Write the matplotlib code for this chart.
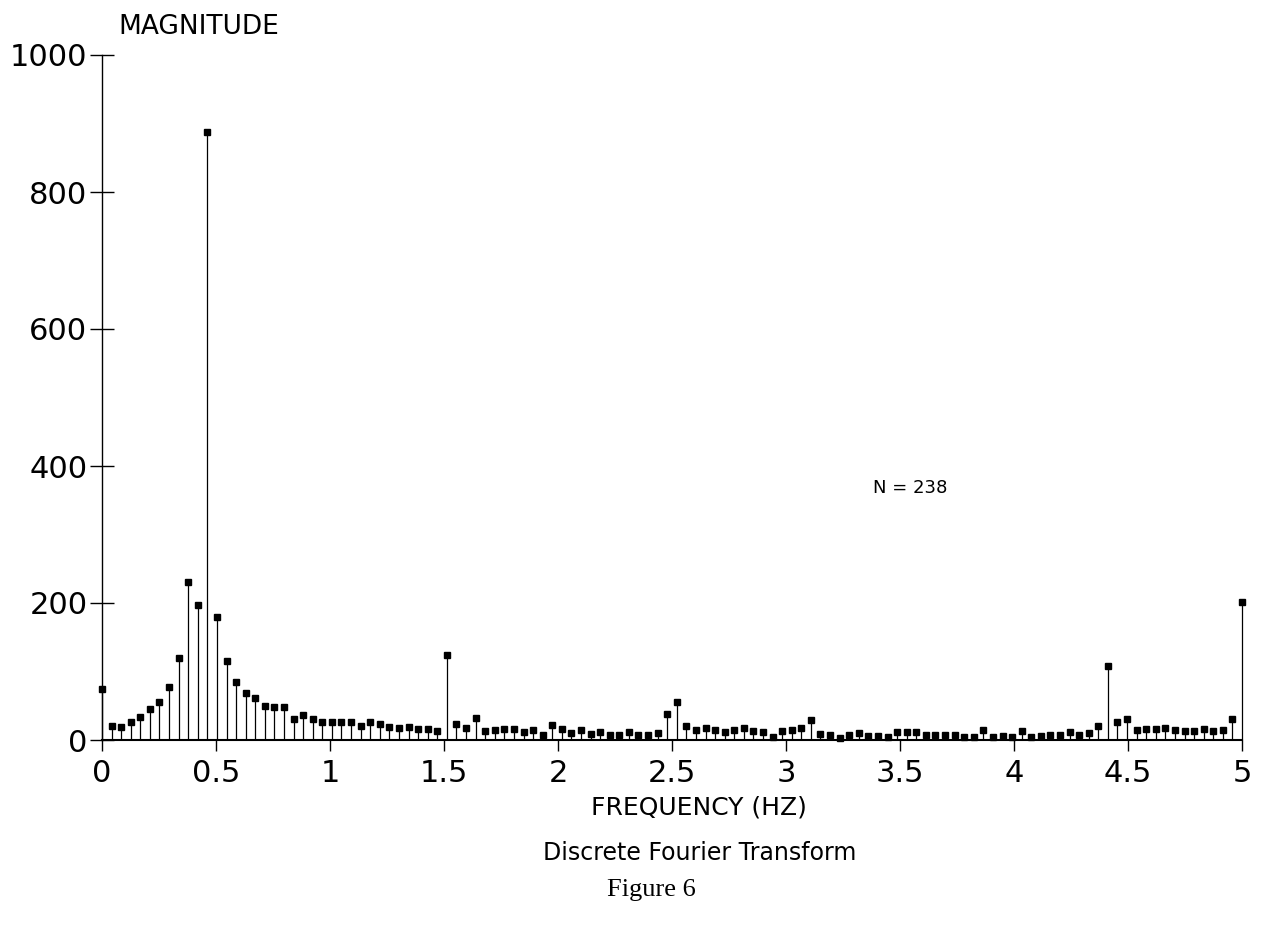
import numpy as np
import matplotlib
matplotlib.use("Agg")
import matplotlib.pyplot as plt

# DFT record: N samples at fs = 10 Hz, bins 0..119 (0..5 Hz)
N = 238
fs = 10.0

# magnitudes, one per bin
mag = [74, 21, 19, 26, 33, 45, 55, 78, 120, 230,
       197, 887, 180, 116, 85, 69, 61, 49, 48, 48,
       31, 37, 30, 26, 26, 27, 27, 20, 26, 23,
       19, 18, 19, 16, 16, 13, 124, 23, 17, 32,
       13, 15, 16, 16, 12, 15, 7, 22, 16, 10,
       15, 9, 12, 8, 8, 11, 8, 7, 10, 38,
       56, 20, 14, 18, 14, 11, 14, 17, 13, 12,
       4, 13, 14, 18, 29, 9, 7, 3, 7, 10,
       6, 6, 5, 11, 12, 11, 8, 8, 8, 7,
       5, 4, 15, 4, 6, 4, 13, 4, 6, 8,
       7, 12, 8, 10, 21, 108, 26, 31, 14, 16,
       16, 18, 14, 13, 13, 16, 13, 15, 30, 202]

freq = np.arange(len(mag)) * fs / N

xticks = [0, 0.5, 1, 1.5, 2, 2.5, 3, 3.5, 4, 4.5, 5]
xtick_labels = ['0', '0.5', '1', '1.5', '2', '2.5', '3', '3.5', '4', '4.5', '5']
yticks = [0, 200, 400, 600, 800, 1000]

plt.rcParams['font.family'] = ['DejaVu Sans']

W, H = 1263, 938
fig = plt.figure(figsize=(W / 100, H / 100), dpi=100)
ax = fig.add_axes([102 / W, 1 - 740 / H, 1140 / W, 685 / H])

markerline, stemlines, baseline = ax.stem(freq, mag, basefmt=' ')
stemlines.set_color('black')
stemlines.set_linewidth(0.9)
markerline.set_color('black')
markerline.set_marker('s')
markerline.set_markersize(5)
markerline.set_clip_on(False)
stemlines.set_clip_on(False)

ax.set_xlim(0, 5)
ax.set_ylim(0, 1000)

for s in ['top', 'right']:
    ax.spines[s].set_visible(False)
ax.spines['left'].set_linewidth(1.0)
ax.spines['bottom'].set_linewidth(1.5)

ax.set_yticks(yticks)
ax.set_xticks(xticks)
ax.set_xticklabels(xtick_labels)
ax.tick_params(axis='y', direction='inout', length=17, width=1.0,
               labelsize=22, pad=2)
ax.tick_params(axis='x', direction='out', length=8, width=1.0,
               labelsize=22, pad=6)

ax.text(3.38, 368, 'N = 238', fontsize=13, ha='left', va='center')

fig.text(118 / W, 1 - 27 / H, 'MAGNITUDE', fontsize=19, ha='left', va='center')
fig.text(699 / W, 1 - 807 / H, 'FREQUENCY (HZ)', fontsize=18, ha='center', va='center')
fig.text(700 / W, 1 - 853 / H, 'Discrete Fourier Transform', fontsize=17,
         ha='center', va='center')
fig.text(651 / W, 1 - 890 / H, 'Figure 6', fontsize=19, family='Liberation Serif',
         ha='center', va='center')

fig.savefig('out.png', dpi=100)
